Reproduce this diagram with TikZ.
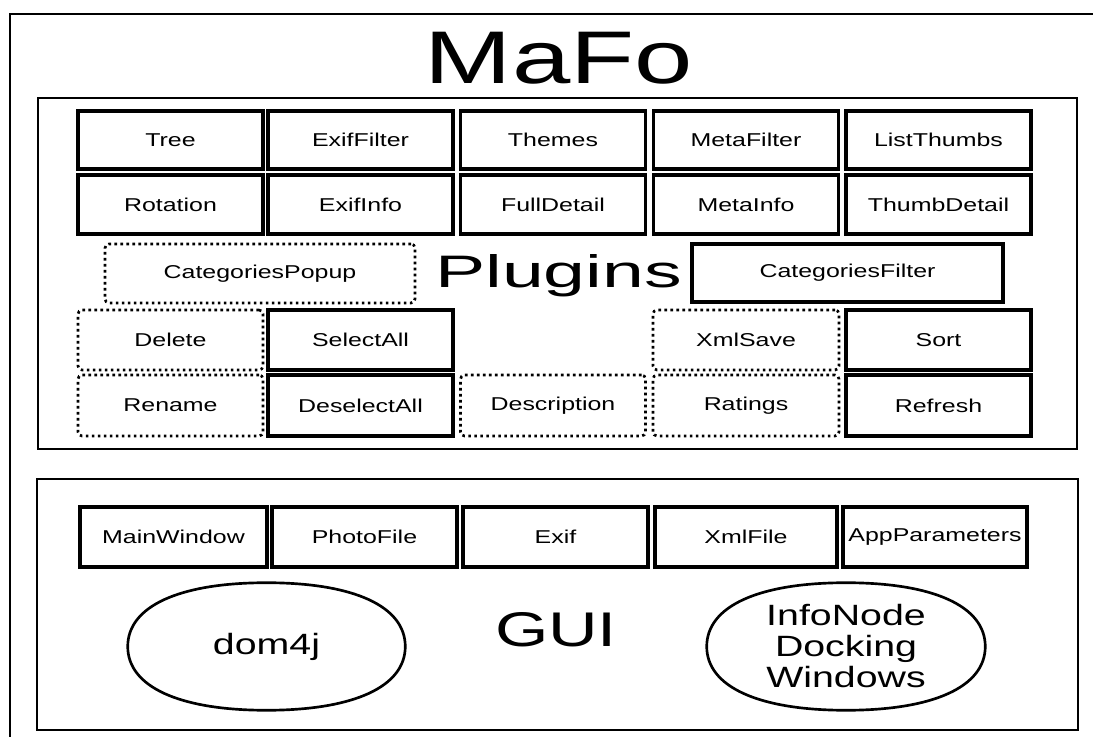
\documentclass[tikz,border=0pt]{standalone}
\usepackage{fontspec}
\setmainfont[FakeStretch=1.34]{Liberation Sans}
\usetikzlibrary{calc}
\newcommand\squirc[2][0.63]{%
  \draw[line width=2pt] (#2.north)
    .. controls ($(#2.north)!#1!(#2.north east)$) and ($(#2.east)!#1!(#2.north east)$) .. (#2.east)
    .. controls ($(#2.east)!#1!(#2.south east)$) and ($(#2.south)!#1!(#2.south east)$) .. (#2.south)
    .. controls ($(#2.south)!#1!(#2.south west)$) and ($(#2.west)!#1!(#2.south west)$) .. (#2.west)
    .. controls ($(#2.west)!#1!(#2.north west)$) and ($(#2.north)!#1!(#2.north west)$) .. (#2.north) -- cycle;}
\begin{document}
\begin{tikzpicture}[x=0.75pt,y=-0.75pt,
  lbl/.style={font=\fontsize{13.95pt}{16pt}\selectfont},
  solidbox/.style={draw, line width=2.4pt, inner sep=0pt, lbl},
  dotbox/.style={draw, line width=2pt, dash pattern=on 2pt off 2.5pt, rounded corners=3pt, inner sep=0pt, lbl},
  sz/.style 2 args={minimum width=#1*0.75pt, minimum height=#2*0.75pt},
  frame/.style={draw, line width=2.1pt, inner sep=0pt},
  big/.style={anchor=base, inner sep=0pt},
  libtext/.style={inner sep=0pt, align=center, font=\fontsize{22pt}{23.25pt}\selectfont}]
\useasboundingbox (0,0) rectangle (1093,737);
\fill[white] (0,0) rectangle (1093,737);
\clip (0,0) rectangle (1093,737);
% outer frame (cropped)
\coordinate (ofbl) at (10,760);
\coordinate (oftl) at (10,14);
\coordinate (oftr) at (1120,14);
\draw[line width=2.1pt] (ofbl) -- (oftl) -- (oftr);
\node[big] (mafo) at (559,84) {\resizebox{201pt}{38.5pt}{\fontsize{40pt}{40pt}\selectfont MaFo}};
% Plugins frame
\node[frame, sz={1039}{351}] (plugframe) at (557.5,273.5) {};
\node[big] (plugins) at (558.5,288) {\resizebox{185pt}{24.75pt}{\fontsize{40pt}{40pt}\selectfont Plugins}};
% row 1
\node[solidbox, sz={185}{58}] (tree) at (170.5,140) {Tree};
\node[solidbox, sz={185}{58}] (exiffilter) at (360.5,140) {ExifFilter};
\node[solidbox, sz={185}{58}] (themes) at (553,140) {Themes};
\node[solidbox, sz={185}{58}] (metafilter) at (746,140) {MetaFilter};
\node[solidbox, sz={185}{58}] (listthumbs) at (938.5,140) {ListThumbs};
% row 2
\node[solidbox, sz={185}{59}] (rotation) at (170.5,204.5) {Rotation};
\node[solidbox, sz={185}{59}] (exifinfo) at (360.5,204.5) {ExifInfo};
\node[solidbox, sz={185}{59}] (fulldetail) at (553,204.5) {FullDetail};
\node[solidbox, sz={185}{59}] (metainfo) at (746,204.5) {MetaInfo};
\node[solidbox, sz={185}{59}] (thumbdetail) at (938.5,204.5) {ThumbDetail};
% row 3
\node[dotbox, sz={310}{59}] (catpopup) at (260,273.5) {CategoriesPopup};
\node[solidbox, sz={311}{58}] (catfilter) at (847.5,273) {CategoriesFilter};
% row 4
\node[dotbox, sz={185}{60}] (delete) at (170.5,340) {Delete};
\node[solidbox, sz={185}{60}] (selectall) at (360.5,340) {SelectAll};
\node[dotbox, sz={186}{60}] (xmlsave) at (746,340) {XmlSave};
\node[solidbox, sz={185}{60}] (sort) at (938.5,340) {Sort};
% row 5
\node[dotbox, sz={185}{61}] (rename) at (170.5,405.5) {Rename};
\node[solidbox, sz={185}{61}] (deselectall) at (360.5,405.5) {DeselectAll};
\node[dotbox, sz={185}{61}] (description) at (553,405.5) {Description};
\node[dotbox, sz={186}{61}] (ratings) at (746,405.5) {Ratings};
\node[solidbox, sz={185}{61}] (refresh) at (938.5,405.5) {Refresh};
% GUI frame
\node[frame, sz={1041}{251}] (guiframe) at (557.5,604.5) {};
\node[big] (gui) at (556,647) {\resizebox{91.5pt}{25.5pt}{\fontsize{40pt}{40pt}\selectfont GUI}};
\node[solidbox, sz={187}{60}] (mainwindow) at (173.5,537) {MainWindow};
\node[solidbox, sz={185}{60}] (photofile) at (364.5,537) {PhotoFile};
\node[solidbox, sz={185}{60}] (exif) at (555.5,537) {Exif};
\node[solidbox, sz={182}{60}] (xmlfile) at (746,537) {XmlFile};
\node[solidbox, sz={184}{60}] (appparams) at (935,537) {AppParameters};
% libraries
\node[libtext, sz={277}{127}] (dom) at (266.5,646.5) {dom4j};
\squirc{dom}
\node[libtext, sz={278}{127}] (infonode) at (846,646.5) {InfoNode\\Docking\\Windows};
\squirc{infonode}
\end{tikzpicture}
\end{document}
